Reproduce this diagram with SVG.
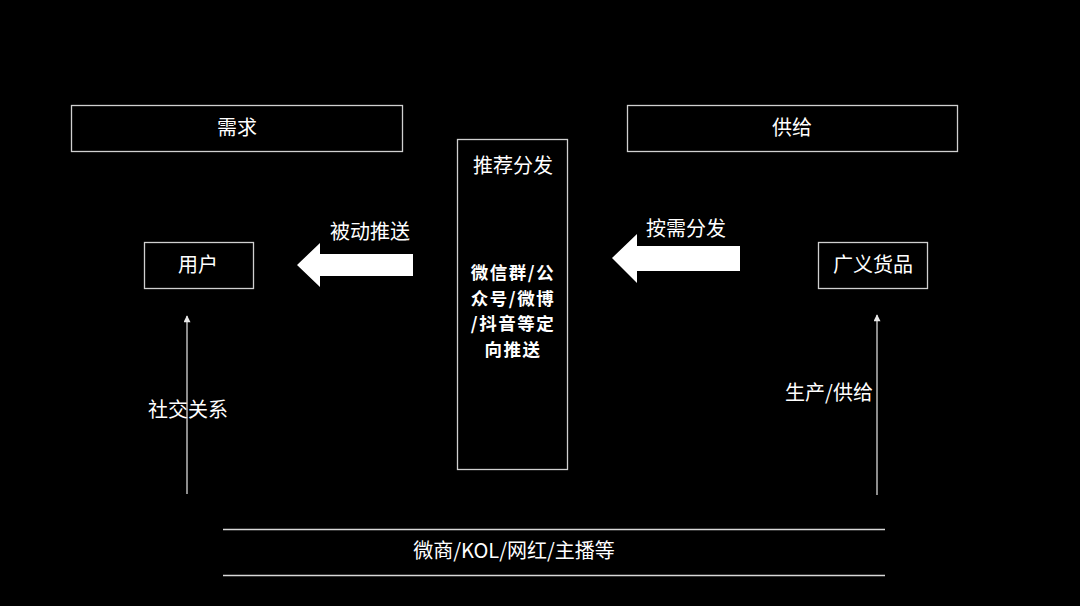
<svg xmlns="http://www.w3.org/2000/svg" width="1080" height="606" viewBox="0 0 1080 606">
<style>
.box{fill:#000;stroke:#d0d0d0;stroke-width:1.3}
.t{fill:#fff;font-family:"Noto Sans CJK SC","Noto Sans",sans-serif;font-size:20px;text-anchor:middle}
.b{font-weight:bold;font-size:17.5px;letter-spacing:1.5px}
.ln{stroke:#d8d8d8;stroke-width:1.3;fill:none}
.big{fill:#fff}
</style>
<defs>
<marker id="ah" viewBox="0 0 10 10" refX="9" refY="5" markerWidth="8" markerHeight="7" markerUnits="userSpaceOnUse" orient="auto">
<path d="M0,0 L10,5 L0,10 Z" fill="#e8e8e8"/>
</marker>
</defs>
<rect width="1080" height="606" fill="#000"/>
<g id="demand"><rect class="box" x="71.5" y="105.5" width="331" height="46"/><text class="t" x="237" y="135">需求</text></g>
<g id="supply"><rect class="box" x="627.5" y="105.5" width="330" height="46"/><text class="t" x="792" y="135">供给</text></g>
<g id="user"><rect class="box" x="144.5" y="242.5" width="109" height="46"/><text class="t" x="198" y="272">用户</text></g>
<g id="goods"><rect class="box" x="818.5" y="242.5" width="109" height="46"/><text class="t" x="873" y="272">广义货品</text></g>
<g id="center"><rect class="box" x="457.5" y="139.5" width="110" height="330" stroke-width="2"/>
<text class="t" x="513" y="173">推荐分发</text>
<text class="t b"><tspan x="513" y="279">微信群/公</tspan><tspan x="513" y="304.5">众号/微博</tspan><tspan x="513" y="330">/抖音等定</tspan><tspan x="513" y="355.5">向推送</tspan></text>
</g>
<g id="bottom"><text class="t" x="514" y="558">微商/KOL/网红/主播等</text></g>
<g id="connectors">
<polygon class="big" points="297,265 320,243 320,254 413,254 413,276 320,276 320,287"/>
<polygon class="big" points="612,258 637,234 637,246 740,246 740,271 637,271 637,283"/>
<line class="ln" x1="187" y1="494" x2="187" y2="316" marker-end="url(#ah)"/>
<line class="ln" x1="877" y1="495" x2="877" y2="315" marker-end="url(#ah)"/>
<line class="ln" x1="223" y1="529.5" x2="885" y2="529.5"/>
<line class="ln" x1="223" y1="575.5" x2="885" y2="575.5"/>
<text class="t" x="370" y="239">被动推送</text>
<text class="t" x="686" y="236">按需分发</text>
<text class="t" x="188" y="417">社交关系</text>
<text class="t" x="829" y="400">生产/供给</text>
</g>
</svg>
